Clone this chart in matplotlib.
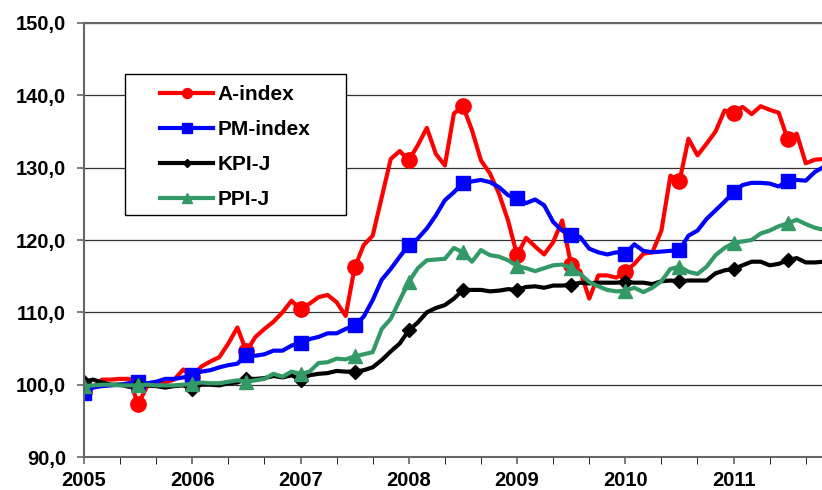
import numpy as np
import matplotlib
matplotlib.use("Agg")
import matplotlib.pyplot as plt
from matplotlib.patches import Rectangle
from matplotlib.ticker import FixedLocator, FuncFormatter

# monthly index values, Jan 2005 onwards (month 0 = Jan 2005)
a_index = [99.0, 99.6, 100.7, 100.7, 100.8, 100.8, 97.3, 99.8, 100.0, 100.3,
           100.7, 102.1, 101.0, 102.5, 103.2, 103.8, 105.7, 107.9, 104.6, 106.6,
           107.7, 108.7, 110.0, 111.6, 110.4, 111.2, 112.1, 112.4, 111.4, 109.5,
           116.2, 119.3, 120.6, 125.9, 131.2, 132.3, 131.0, 133.1, 135.5, 131.9,
           130.3, 137.5, 138.5, 135.2, 131.0, 129.2, 126.4, 122.7, 117.9, 120.3,
           119.1, 118.0, 119.7, 122.7, 116.5, 115.7, 111.9, 115.1, 115.1, 114.8,
           115.6, 116.7, 118.1, 118.3, 121.3, 128.9, 128.1, 134.0, 131.7, 133.3,
           135.0, 137.9, 137.6, 138.4, 137.4, 138.5, 138.0, 137.6, 133.9, 134.7,
           130.6, 131.1, 131.2]
pm_index = [98.8, 99.6, 99.8, 99.9, 100.0, 100.2, 100.3, 100.2, 100.4, 100.8,
            100.8, 101.0, 101.4, 101.8, 102.0, 102.4, 102.7, 102.9, 104.1, 104.0,
            104.2, 104.7, 104.7, 105.4, 105.8, 106.3, 106.6, 107.1, 107.1, 107.7,
            108.2, 109.4, 111.7, 114.5, 116.0, 117.7, 119.3, 120.2, 121.6, 123.4,
            125.5, 126.6, 127.9, 128.1, 128.3, 128.0, 127.3, 126.2, 125.8, 125.1,
            125.6, 124.8, 122.5, 121.3, 120.7, 120.4, 118.8, 118.3, 118.0, 118.3,
            118.1, 119.4, 118.5, 118.3, 118.4, 118.5, 118.6, 120.6, 121.3, 122.9,
            124.1, 125.3, 126.6, 127.6, 127.9, 127.9, 127.8, 127.4, 128.2, 128.3,
            128.2, 129.4, 130.1]
kpi_j = [100.4, 100.7, 100.3, 100.0, 100.0, 99.7, 100.0, 99.9, 99.8, 99.6,
         99.8, 99.9, 99.4, 100.0, 100.0, 99.9, 100.2, 100.3, 100.8, 100.8,
         100.9, 101.2, 101.0, 101.3, 100.7, 101.3, 101.5, 101.6, 101.9, 101.8,
         101.8, 102.0, 102.4, 103.4, 104.6, 105.7, 107.5, 108.6, 110.0, 110.6,
         111.0, 111.9, 113.1, 113.1, 113.1, 112.9, 113.0, 113.2, 113.1, 113.5,
         113.6, 113.4, 113.7, 113.7, 113.8, 114.1, 114.0, 114.1, 114.1, 114.1,
         114.2, 114.1, 114.1, 113.9, 114.3, 114.4, 114.3, 114.4, 114.4, 114.4,
         115.4, 115.8, 116.0, 116.5, 117.0, 117.0, 116.5, 116.7, 117.2, 117.5,
         116.9, 116.9, 117.0]
ppi_j = [99.8, 99.9, 100.0, 100.0, 99.9, 99.9, 99.9, 100.0, 99.9, 99.9,
         99.9, 100.0, 100.1, 100.3, 100.2, 100.2, 100.4, 100.6, 100.4, 100.6,
         100.8, 101.5, 101.1, 101.8, 101.5, 101.8, 103.0, 103.1, 103.6, 103.5,
         103.9, 104.2, 104.5, 107.7, 109.1, 111.7, 114.2, 116.1, 117.2, 117.3,
         117.4, 118.9, 118.3, 117.0, 118.6, 117.9, 117.7, 117.2, 116.4, 116.1,
         115.7, 116.1, 116.5, 116.6, 116.1, 115.3, 114.2, 113.6, 113.1, 112.9,
         113.0, 113.4, 112.8, 113.4, 114.3, 116.0, 116.3, 115.6, 115.3, 116.3,
         117.9, 118.9, 119.6, 119.8, 120.0, 120.9, 121.3, 121.9, 122.3, 122.8,
         122.2, 121.7, 121.4]
years = ["2005", "2006", "2007", "2008", "2009", "2010", "2011"]

plt.rcParams['font.family'] = ['Liberation Sans', 'DejaVu Sans']
plt.rcParams['font.weight'] = 'bold'

fig = plt.figure(figsize=(8.22, 4.9), dpi=100)
ax = fig.add_axes([84 / 822, 33 / 490, 1 - 84 / 822, 434 / 490])

months = np.arange(len(a_index))
ax.plot(months, a_index, color='#ff0000', lw=3, marker='o', ms=11,
        markevery=6, label='A-index')
ax.plot(months, pm_index, color='#0000ff', lw=3, marker='s', ms=10,
        markevery=6, label='PM-index')
ax.plot(months, kpi_j, color='#000000', lw=3, marker='D', ms=7,
        markevery=6, label='KPI-J')
ax.plot(months, ppi_j, color='#339966', lw=3, marker='^', ms=10,
        markevery=6, label='PPI-J')

ax.set_ylim(90, 150)
ax.set_xlim(0, 81.8)
ax.set_yticks(np.arange(90, 151, 10))
ax.yaxis.set_major_formatter(FuncFormatter(lambda v, p: f"{v:.1f}".replace('.', ',')))
ax.set_xticks(np.arange(len(years)) * 12)
ax.set_xticklabels(years)
ax.xaxis.set_minor_locator(FixedLocator(np.arange(0, 82, 4)))
ax.grid(axis='y', color='#333333', lw=0.9)
ax.set_axisbelow(True)

for s in ['left', 'bottom', 'top']:
    ax.spines[s].set_color('#666666')
    ax.spines[s].set_linewidth(1.5)
ax.spines['right'].set_visible(False)
ax.tick_params(axis='both', labelsize=14.5, color='#666666', width=1.2)
ax.tick_params(axis='y', length=5, pad=8)
ax.tick_params(axis='x', which='both', length=5, pad=5)
for lab in ax.get_xticklabels() + ax.get_yticklabels():
    lab.set_fontweight('bold')

# legend box drawn by hand, legend entries without frame
ax.add_patch(Rectangle((0.0556, 0.5576), 0.2995, 0.325, transform=ax.transAxes,
                       facecolor='white', edgecolor='black', lw=1.0, zorder=4))
leg = ax.legend(loc='upper left', bbox_to_anchor=(0.103, 0.856),
                borderaxespad=0, frameon=False,
                prop={'size': 15, 'weight': 'bold'},
                handlelength=2.55, handletextpad=0.2, labelspacing=0.76,
                borderpad=0, markerscale=0.65)
leg.set_zorder(5)

fig.savefig("out.png", dpi=100)
